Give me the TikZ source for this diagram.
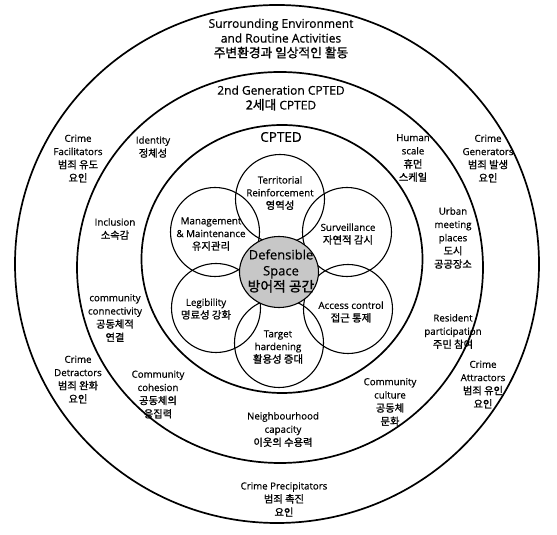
\documentclass[tikz,border=0pt]{standalone}
\usepackage{fontspec}
\setmainfont{Open Sans}[RawFeature={embolden=0.5}]
\newfontfamily\kr{Noto Sans CJK KR}[Scale=1.06, RawFeature={embolden=1.2}]
\begin{document}
\begin{tikzpicture}[x=1pt,y=1pt,
  ring/.style={draw, line width=1.7pt},
  petal/.style={draw, line width=1.1pt, circle, minimum size=89pt, inner sep=0pt},
  lbl/.style={align=center, inner sep=0pt, font=\fontsize{9.7}{13.3}\selectfont},
  toplbl/.style={align=center, inner sep=0pt, font=\fontsize{12}{14.8}\selectfont},
  ptl/.style={align=center, inner sep=0pt, font=\fontsize{9.8}{12.8}\selectfont}]
\useasboundingbox (0,0) rectangle (557,535);
% rings
\draw[ring] (277,271) ellipse [x radius=262, y radius=259];
\draw[ring] (280,267.5) ellipse [x radius=203, y radius=195.5];
\draw[ring] (282,276) ellipse [x radius=140.5, y radius=134];
% petals
\node[petal] (terr) at (280,336) {};
\node[petal] (targ) at (279,192) {};
\node[petal] (mgmt) at (215,303) {};
\node[petal] (surv) at (347,303) {};
\node[petal] (legi) at (216,227) {};
\node[petal] (acc)  at (348,226) {};
\fill[black!22] (279,263) ellipse [x radius=39.5, y radius=35.5];
\draw[line width=1.1pt] (279,263) ellipse [x radius=39.5, y radius=35.5];
% petal texts
\node[ptl] (terrT) at (280,342) {Territorial\\Reinforcement\\{\kr 영역성}};
\node[ptl] (mgmtT) at (211,301) {Management\\\& Maintenance\\{\kr 유지관리}};
\node[ptl] (survT) at (348,301) {Surveillance\\{\kr 자연적 감시}};
\node[ptl] (legT)  at (206,226) {Legibility\\{\kr 명료성 강화}};
\node[ptl] (accT)  at (351,223) {Access control\\{\kr 접근 통제}};
\node[ptl] (targT) at (278,188) {Target\\hardening\\{\kr 활용성 증대}};
\node[align=center, inner sep=0pt, font=\fontsize{13}{16}\selectfont] (defT) at (281,264) {Defensible\\Space\\{\kr 방어적 공간}};
% ring titles
\node[toplbl] (surr) at (281,496.5) {Surrounding Environment\\and Routine Activities\\{\kr 주변환경과 일상적인 활동}};
\node[toplbl] (gen2) at (281,437) {2nd Generation CPTED\\{\kr 2세대} CPTED};
\node[align=center, inner sep=0pt, font=\fontsize{13.5}{15}\selectfont] (cpted) at (281,398) {CPTED};
% outer ring labels
\node[lbl] (facil) at (78,376.5) {Crime\\Facilitators\\{\kr 범죄 유도}\\{\kr 요인}};
\node[lbl] (gener) at (488,376.5) {Crime\\Generators\\{\kr 범죄 발생}\\{\kr 요인}};
\node[lbl] (detr)  at (78,155.5) {Crime\\Detractors\\{\kr 범죄 완화}\\{\kr 요인}};
\node[lbl] (attr)  at (483,150.5) {Crime\\Attractors\\{\kr 범죄 유인}\\{\kr 요인}};
\node[lbl] (prec)  at (284,35.5) {Crime Precipitators\\{\kr 범죄 촉진}\\{\kr 요인}};
% second ring labels
\node[lbl] (ident) at (153,388) {Identity\\{\kr 정체성}};
\node[lbl] (human) at (413,377) {Human\\scale\\{\kr 휴먼}\\{\kr 스케일}};
\node[lbl] (incl)  at (115,306) {Inclusion\\{\kr 소속감}};
\node[lbl] (conn)  at (115,217) {community\\connectivity\\{\kr 공동체적}\\{\kr 연결}};
\node[lbl] (urban) at (453,297) {Urban\\meeting\\places\\{\kr 도시}\\{\kr 공공장소}};
\node[lbl] (resid) at (453,203.5) {Resident\\participation\\{\kr 주민 참여}};
\node[lbl] (cohes) at (158,140.5) {Community\\cohesion\\{\kr 공동체의}\\{\kr 응집력}};
\node[lbl] (cult)  at (390,133) {Community\\culture\\{\kr 공동체}\\{\kr 문화}};
\node[lbl] (neigh) at (283,105.5) {Neighbourhood\\capacity\\{\kr 이웃의 수용력}};
\end{tikzpicture}
\end{document}
